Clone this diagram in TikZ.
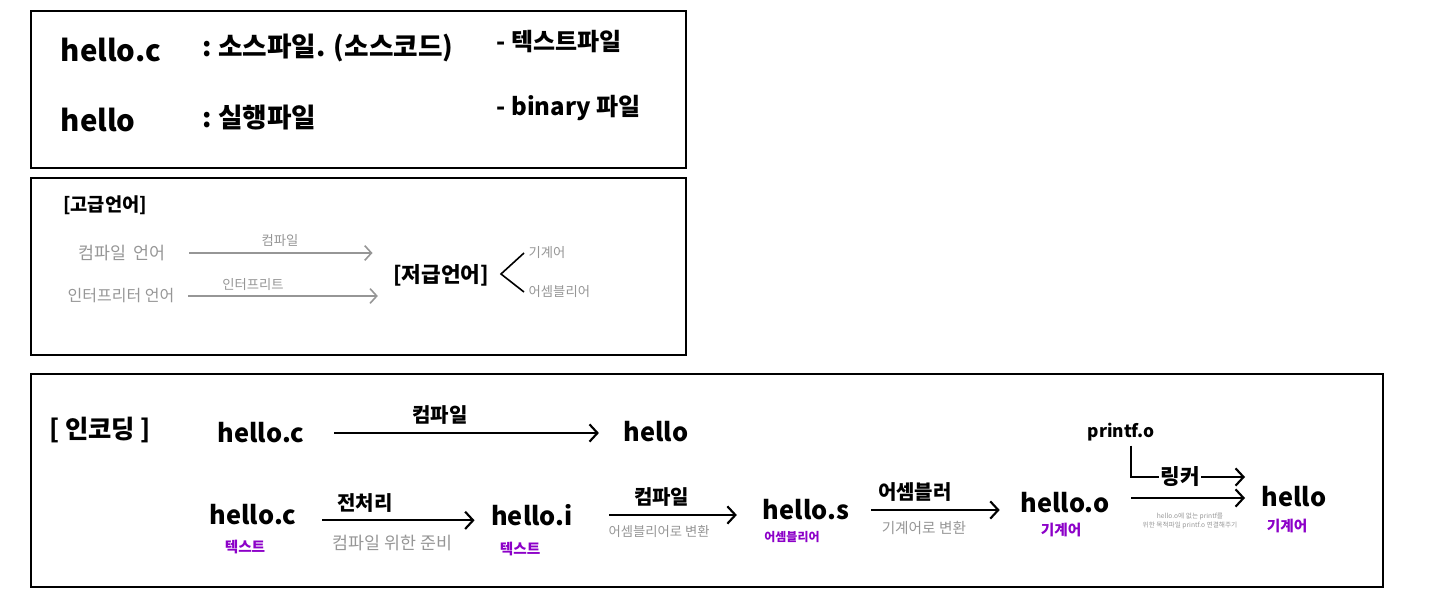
\documentclass[tikz,border=0pt]{standalone}
\usepackage{fontspec}
\setmainfont{Noto Sans CJK KR}
\usetikzlibrary{arrows.meta}
\definecolor{notegray}{RGB}{150,150,150}
\definecolor{typepurple}{RGB}{140,0,200}

\begin{document}
\begin{tikzpicture}[x=0.75pt,y=-0.75pt,
    frame/.style={draw,line width=2.2pt},
    light frame/.style={draw,line width=1.1pt},
    big/.style={font=\bfseries\fontsize{22}{26}\selectfont},
    mid/.style={font=\bfseries\fontsize{20}{24}\selectfont},
    small/.style={font=\bfseries\fontsize{18}{22}\selectfont},
    fname/.style={font=\bfseries\fontsize{19}{23}\selectfont},
    step label/.style={font=\bfseries\fontsize{15}{18}\selectfont},
    note/.style={text=notegray,font=\fontsize{12}{14}\selectfont},
    kind/.style={text=typepurple,font=\bfseries\fontsize{11}{13}\selectfont},
    flow/.style={line width=1.6pt,-{Straight Barb[length=6pt,width=13pt]}},
    gray flow/.style={notegray,line width=1.2pt,-{Straight Barb[length=5pt,width=11pt]}}]
  \useasboundingbox (0,0) rectangle (1440,613);

  % files
  \draw[frame] (31,11) rectangle (686,168);
  \node[big,anchor=west] (srcname) at (56,50) {hello.c};
  \node[mid,anchor=west] (srcdesc) at (198,48) {:\ 소스파일. (소스코드)};
  \node[small,anchor=west] (srctype) at (492,42) {-\ 텍스트파일};
  \node[big,anchor=west] (exename) at (56,120) {hello};
  \node[mid,anchor=west] (exedesc) at (198,118) {:\ 실행파일};
  \node[small,anchor=west] (exetype) at (492,108) {-\ binary 파일};

  % languages
  \draw[light frame] (31,178) rectangle (686,355);
  \node[font=\bfseries\fontsize{14}{17}\selectfont] (high) at (105,205) {[고급언어]};
  \node[note,font=\fontsize{13}{15}\selectfont] (compl) at (122,253) {컴파일\ \ 언어};
  \node[note,font=\fontsize{12}{14}\selectfont] (interl) at (121,296) {인터프리터 언어};
  \node[font=\bfseries\fontsize{16}{19}\selectfont] (low) at (441,275) {[저급언어]};
  \node[note,font=\fontsize{10}{12}\selectfont,anchor=west] (mach) at (524,253) {기계어};
  \node[note,font=\fontsize{10}{12}\selectfont,anchor=west] (asm) at (524,292) {어셈블리어};
  \coordinate (fork) at (501,274);
  \draw[gray flow] ([xshift=14pt]compl.east) -- ([xshift=-12pt]compl.east -| low.west);
  \draw[gray flow] ([xshift=7pt]interl.east) -- ([xshift=-8pt]interl.east -| low.west);
  \node[note,font=\fontsize{10}{12}\selectfont] (compw) at (280,241) {컴파일};
  \node[note,font=\fontsize{10}{12}\selectfont] (interw) at (253,285) {인터프리트};
  \draw[line width=1.2pt] (mach.west) -- (fork) -- (asm.west);

  % encoding
  \draw[frame] (31,374) rectangle (1383,587);
  \node[font=\bfseries\fontsize{19}{23}\selectfont] (enc) at (100,430) {[ 인코딩 ]};
  \node[fname] (c1) at (261,433) {hello.c};
  \node[fname] (x1) at (656,432) {hello};
  \draw[flow] ([xshift=19pt]c1.east) -- node[above=2pt,step label,pos=0.4] (w1) {컴파일} ([xshift=-15pt]c1.east -| x1.west);

  \node[fname] (c2) at (253,515) {hello.c};
  \node[kind] (t2) at (245,547) {텍스트};
  \node[fname] (i2) at (532,515) {hello.i};
  \node[kind] (ti) at (520,549) {텍스트};
  \node[fname] (s2) at (806,510) {hello.s};
  \node[kind,font=\bfseries\fontsize{9}{11}\selectfont] (ts) at (792,537) {어셈블리어};
  \node[fname] (o2) at (1065,503) {hello.o};
  \node[kind] (to) at (1061,530) {기계어};
  \node[fname] (x2) at (1294,497) {hello};
  \node[kind] (tx) at (1287,526) {기계어};
  \node[font=\bfseries\fontsize{13}{15}\selectfont] (pf) at (1121,432) {printf.o};

  \draw[flow] ([xshift=16pt,yshift=-4pt]c2.east) -- node[above=2pt,step label,pos=0.28] (pre) {전처리}
    node[below=7pt,note,font=\fontsize{13}{15}\selectfont,pos=0.46] (prenote) {컴파일 위한 준비} ([xshift=-9pt,yshift=-4pt]c2.east -| i2.west);
  \draw[flow] ([xshift=24pt]i2.east) -- node[above=2pt,step label,pos=0.41] (cc) {컴파일}
    node[below=4pt,note,font=\fontsize{10}{12}\selectfont,pos=0.39] (ccnote) {어셈블리어로 변환} ([xshift=-16pt]i2.east -| s2.west);
  \draw[flow] ([xshift=13pt]s2.east) -- node[above=2pt,step label,pos=0.34] (as) {어셈블러}
    node[below=4pt,note,font=\fontsize{11}{13}\selectfont,pos=0.41] (asnote) {기계어로 변환} ([xshift=-12pt]s2.east -| o2.west);

  % linker
  \coordinate (lkcorner) at (1131,477);
  \coordinate (lkend) at (1245,477);
  \coordinate (lkstart) at (1131,498);
  \coordinate (lkstop) at (1245,498);
  \draw[flow] (pf.south -| lkcorner) -- (lkcorner) -- node[fill=white,inner sep=1pt,step label,font=\bfseries\fontsize{16}{19}\selectfont,pos=0.43] (link) {링커} (lkend);
  \draw[flow] (lkstart) -- (lkstop);
  \node[note,font=\fontsize{5}{6.5}\selectfont,align=center] (linknote) at (1190,521) {hello.o에 없는 printf를\\위한 목적파일 printf.o 연결해주기};
\end{tikzpicture}
\end{document}
